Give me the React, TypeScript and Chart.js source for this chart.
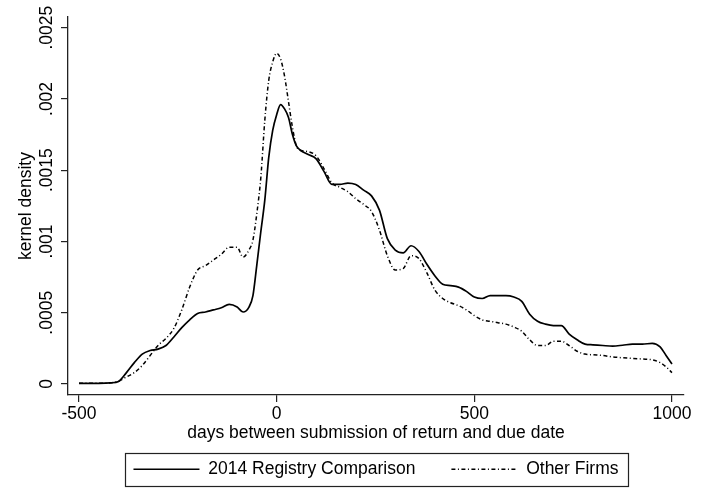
import React, { useEffect, useRef } from "react";
import { Chart, registerables } from "chart.js";

Chart.register(...registerables);

const days = [-500, -450, -420, -400, -380, -360, -340, -320, -300, -280, -260, -240, -220, -200, -180, -160, -140, -120, -100, -85, -70, -60, -50, -40, -30, -20, -10, 0, 10, 20, 30, 40, 50, 60, 80, 100, 120, 140, 160, 180, 200, 220, 240, 260, 280, 300, 320, 340, 360, 380, 400, 420, 440, 460, 480, 500, 520, 540, 560, 580, 600, 620, 640, 660, 680, 700, 720, 740, 760, 780, 800, 825, 850, 875, 900, 925, 950, 970, 985, 1000];

const registry = [0.000005, 0.000005, 0.000008, 0.000018, 0.00008, 0.00015, 0.00021, 0.000235, 0.000245, 0.00027, 0.00033, 0.000395, 0.00045, 0.000495, 0.000505, 0.00052, 0.000535, 0.000558, 0.00054, 0.000505, 0.00054, 0.00062, 0.00084, 0.00107, 0.00129, 0.00159, 0.00178, 0.00189, 0.00196, 0.00193, 0.00187, 0.00175, 0.00167, 0.00164, 0.00161, 0.00158, 0.00149, 0.0014, 0.0014, 0.00141, 0.0014, 0.00136, 0.00132, 0.00122, 0.00102, 0.00094, 0.00092, 0.00097, 0.00093, 0.00084, 0.00076, 0.0007, 0.00069, 0.00068, 0.00065, 0.00061, 0.0006, 0.00062, 0.00062, 0.00062, 0.00061, 0.00058, 0.00049, 0.00044, 0.00042, 0.00041, 0.00041, 0.00035, 0.00031, 0.00028, 0.000275, 0.00027, 0.000266, 0.000272, 0.00028, 0.00028, 0.000285, 0.00026, 0.0002, 0.00014];

const otherFirms = [0.000005, 0.000005, 0.000008, 0.00002, 0.00005, 0.00008, 0.00013, 0.0002, 0.00027, 0.00032, 0.00039, 0.00052, 0.00068, 0.0008, 0.00083, 0.00087, 0.00091, 0.00096, 0.00096, 0.00089, 0.00094, 0.00101, 0.0012, 0.00145, 0.00185, 0.00213, 0.00226, 0.00232, 0.00228, 0.00216, 0.00198, 0.0018, 0.00167, 0.00164, 0.00163, 0.0016, 0.00151, 0.00141, 0.00138, 0.00135, 0.0013, 0.00126, 0.00121, 0.00108, 0.0009, 0.0008, 0.00081, 0.0009, 0.00088, 0.00078, 0.00066, 0.0006, 0.00057, 0.00055, 0.00052, 0.00048, 0.00045, 0.00044, 0.00043, 0.00042, 0.0004, 0.00037, 0.00031, 0.00027, 0.00027, 0.0003, 0.0003, 0.00027, 0.00023, 0.00021, 0.000205, 0.0002, 0.00019, 0.000184, 0.00018, 0.000175, 0.00017, 0.00015, 0.00012, 0.00008];

const seriesNames = ["2014 Registry Comparison", "Other Firms"];
const xTickValues = [-500, 0, 500, 1000];
const xTickLabels = ["-500", "0", "500", "1000"];
const yTickValues = [0, 0.0005, 0.001, 0.0015, 0.002, 0.0025];
const yTickLabels = ["0", ".0005", ".001", ".0015", ".002", ".0025"];
const xTitle = "days between submission of return and due date";
const yTitle = "kernel density";

const FONT = "'Liberation Sans', Arial, Helvetica, sans-serif";
const FS = 17.5;

const legendBoxPlugin = {
  id: "legendBox",
  afterDraw(chart: any) {
    const lg = chart.legend;
    if (!lg || !lg.legendHitBoxes || !lg.legendHitBoxes.length) return;
    const hb = lg.legendHitBoxes;
    const first = hb[0];
    const last = hb[hb.length - 1];
    const left = first.left - 8;
    const right = last.left + last.width + 10;
    const top = first.top - 8;
    const bottom = first.top + first.height + 7;
    const ctx = chart.ctx;
    ctx.save();
    ctx.strokeStyle = "#222";
    ctx.lineWidth = 1.2;
    ctx.setLineDash([]);
    ctx.strokeRect(Math.round(left) + 0.5, Math.round(top) + 0.5, Math.round(right - left), Math.round(bottom - top));
    ctx.restore();
  },
};

export default function App() {
  const ref = useRef<HTMLCanvasElement | null>(null);

  useEffect(() => {
    if (!ref.current) return;
    Chart.defaults.font.family = FONT;
    Chart.defaults.color = "#000";
    const chart = new Chart(ref.current, {
      type: "line",
      data: {
        datasets: [
          {
            label: seriesNames[0],
            data: days.map((d, i) => ({ x: d, y: registry[i] })),
            borderColor: "#000",
            borderWidth: 1.7,
            pointRadius: 0,
            cubicInterpolationMode: "monotone",
            fill: false,
          },
          {
            label: seriesNames[1],
            data: days.map((d, i) => ({ x: d, y: otherFirms[i] })),
            borderColor: "#000",
            borderWidth: 1.5,
            borderDash: [4, 2.5, 1, 2.5],
            pointRadius: 0,
            cubicInterpolationMode: "monotone",
            fill: false,
          },
        ],
      },
      options: {
        responsive: false,
        animation: false,
        layout: { padding: { top: 17, right: 20, left: 0, bottom: 0 } },
        plugins: {
          tooltip: { enabled: false },
          legend: {
            position: "bottom",
            fullSize: false,
            labels: {
              usePointStyle: true,
              pointStyle: "line",
              pointStyleWidth: 66,
              padding: 36,
              color: "#000",
              font: { size: FS, family: FONT },
              generateLabels(ch: any) {
                const base = (Chart.defaults.plugins.legend.labels as any).generateLabels(ch);
                return base.map((item: any) => {
                  const ds = ch.data.datasets[item.datasetIndex];
                  return {
                    ...item,
                    pointStyle: "line",
                    strokeStyle: "#000",
                    fillStyle: "#000",
                    lineWidth: ds.borderWidth,
                    lineDash: ds.borderDash || [],
                  };
                });
              },
            },
          },
        },
        scales: {
          x: {
            type: "linear",
            min: -527.8,
            max: 1030.4,
            afterFit(scale: any) {
              scale.height = 29.5;
            },
            afterBuildTicks(scale: any) {
              scale.ticks = xTickValues.map((v) => ({ value: v }));
            },
            ticks: {
              padding: 1.5,
              maxRotation: 0,
              minRotation: 0,
              color: "#000",
              font: { size: FS, family: FONT },
              callback: (v: any) => {
                const i = xTickValues.indexOf(Number(v));
                return i >= 0 ? xTickLabels[i] : "";
              },
            },
            grid: {
              display: true,
              drawOnChartArea: false,
              drawTicks: true,
              tickLength: 7,
              color: "#222",
              lineWidth: 1.2,
            },
            border: { display: true, color: "#222", width: 1.3 },
            title: {
              display: true,
              text: xTitle,
              color: "#000",
              font: { size: FS, family: FONT },
              padding: { top: 0, bottom: -19.2 },
            },
          },
          y: {
            type: "linear",
            min: -0.0000772,
            max: 0.002575,
            afterFit(scale: any) {
              scale.width = 68;
            },
            afterBuildTicks(scale: any) {
              scale.ticks = yTickValues.map((v) => ({ value: v }));
            },
            ticks: {
              padding: -7.6,
              minRotation: 90,
              maxRotation: 90,
              crossAlign: "center",
              color: "#000",
              font: { size: FS, family: FONT },
              callback: (v: any, idx: number) => yTickLabels[idx] ?? "",
            },
            grid: {
              display: true,
              drawOnChartArea: false,
              drawTicks: true,
              tickLength: 7,
              color: "#222",
              lineWidth: 1.2,
            },
            border: { display: true, color: "#222", width: 1.3 },
            title: {
              display: true,
              text: yTitle,
              color: "#000",
              font: { size: FS, family: FONT },
              padding: { top: 15.9, bottom: 0 },
            },
          },
        },
      },
      plugins: [legendBoxPlugin],
    } as any);
    return () => chart.destroy();
  }, []);

  return (
    <div style={{ position: "absolute", left: 0, top: 0, width: 704, height: 488, background: "#fff" }}>
      <canvas ref={ref} width={704} height={488} style={{ display: "block" }} />
    </div>
  );
}
